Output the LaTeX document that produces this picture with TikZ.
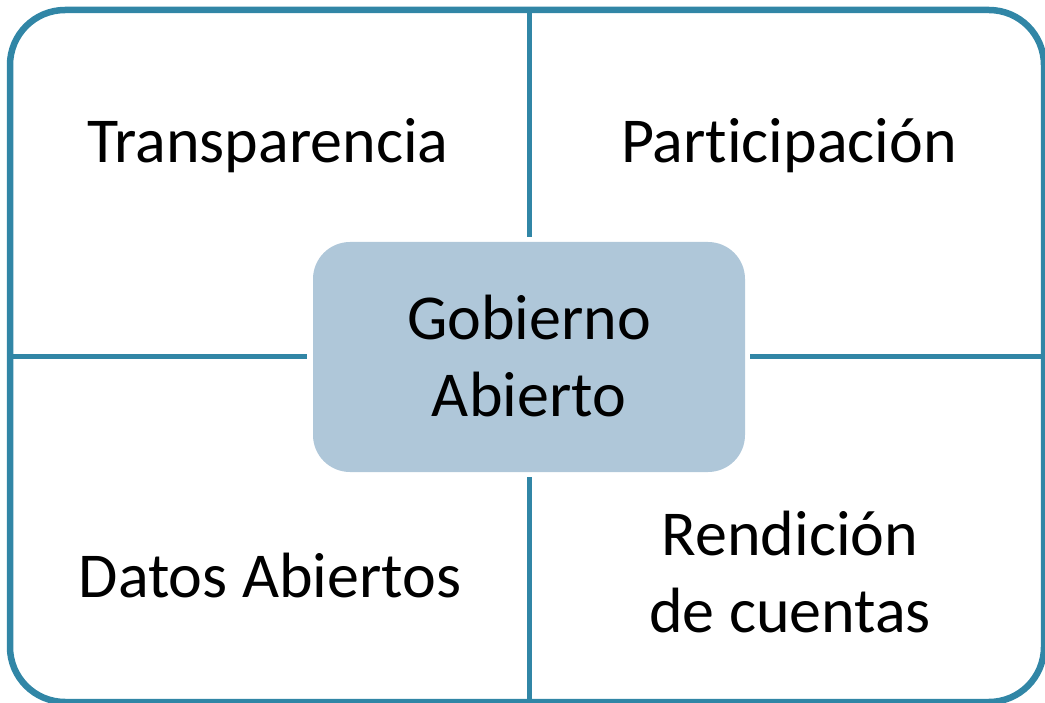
\documentclass[tikz,border=0pt]{standalone}
\usepackage{fontspec}
\setmainfont{Carlito}[Ligatures={NoCommon,NoContextual}]
\definecolor{frameblue}{RGB}{49,134,166}
\definecolor{boxfill}{RGB}{175,199,217}
\begin{document}
\begin{tikzpicture}[x=1pt,y=-1pt,
  framebox/.style={draw=frameblue,line width=6.5pt,rounded corners=55pt,inner sep=0pt,
    minimum width=1034pt,minimum height=692pt},
  centerbox/.style={fill=boxfill,draw=none,rounded corners=37pt,inner sep=0pt,
    minimum width=432pt,minimum height=230pt},
  divider/.style={draw=frameblue,line width=5pt},
  label/.style={font=\fontsize{64}{77}\selectfont,text=black,align=center,inner sep=0pt,anchor=base}]
\useasboundingbox (0,0) rectangle (1045,703);
\node[framebox] (frame) at (527,356) {};
\node[centerbox] (center) at (529,357) {};
\draw[divider] ([yshift=5pt]center.north) -- (center.north |- frame.north);
\draw[divider] ([yshift=-5pt]center.south) -- (center.south |- frame.south);
\draw[divider] ([xshift=-6pt]center.west) -- (center.west -| frame.west);
\draw[divider] ([xshift=5pt]center.east) -- (center.east -| frame.east);
\node[label] (gob) at (529,417) {Gobierno\\Abierto};
\node[label] (tra) at (268,163) {Transparencia};
\node[label] (par) at (789,163) {Participación};
\node[label] (dat) at (270,597) {Datos Abiertos};
\node[label] (ren) at (790,632) {Rendición\\de cuentas};
\end{tikzpicture}
\end{document}
